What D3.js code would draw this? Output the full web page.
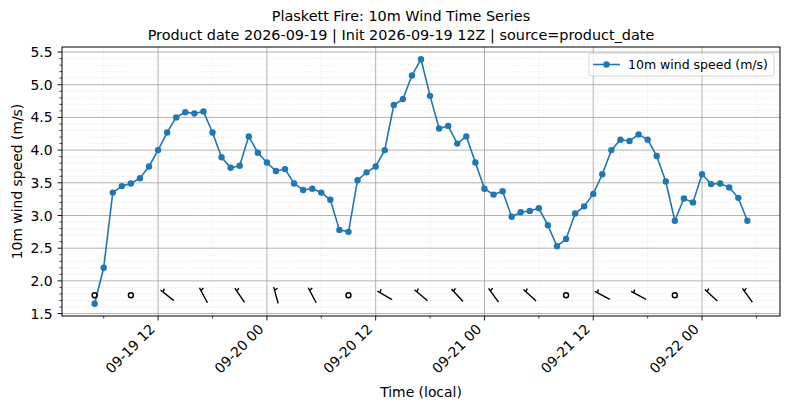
<!DOCTYPE html>
<html>
<head>
<meta charset="utf-8">
<script src="https://cdn.jsdelivr.net/npm/d3@7"></script>
<style>
  body { margin: 0; background: #fff; }
  text { font-family: "DejaVu Sans", sans-serif; fill: #000; }
</style>
</head>
<body>
<div id="chart"></div>
<script>
// hourly 10m wind speed (m/s), 09-19 05:00 .. 09-22 05:00
const startTime = Date.UTC(2026, 8, 19, 5);
const speeds = [
    1.65, 2.20, 3.35, 3.45, 3.49, 3.57, 3.75, 4.00, 4.27, 4.50, 4.58, 4.56, 4.59, 4.27, 3.89, 3.73, 3.76, 4.21, 3.96,
    3.81, 3.68, 3.71, 3.49, 3.39, 3.41, 3.35, 3.24, 2.78, 2.75, 3.54, 3.66, 3.75, 4.00, 4.69, 4.78, 5.14, 5.39, 4.83, 4.33, 4.37, 4.10, 4.21, 3.81,
    3.41, 3.32, 3.37, 2.98, 3.05, 3.07, 3.11, 2.85, 2.53, 2.64, 3.03, 3.14, 3.33, 3.63, 4.00, 4.16, 4.14, 4.24, 4.16, 3.91, 3.52, 2.92, 3.26, 3.20,
    3.63, 3.48, 3.49, 3.43, 3.27, 2.92
];

// wind barbs every 4 hours; direction (deg, from), null = calm
const barbTimes = [
    "2026-09-19T05", "2026-09-19T09", "2026-09-19T13", "2026-09-19T17", "2026-09-19T21",
    "2026-09-20T01", "2026-09-20T05", "2026-09-20T09", "2026-09-20T13", "2026-09-20T17", "2026-09-20T21",
    "2026-09-21T01", "2026-09-21T05", "2026-09-21T09", "2026-09-21T13", "2026-09-21T17", "2026-09-21T21",
    "2026-09-22T01", "2026-09-22T05"
];
const barbDirs = [null, null, 309, 332, 326, 345, 332, null, 300, 310, 317, 324, 312, null, 298, 298, null, 313, 324];
const barbLevel = 1.78;

const yMajorTicks = [1.5, 2.0, 2.5, 3.0, 3.5, 4.0, 4.5, 5.0, 5.5];

const titleLines = [
    "Plaskett Fire: 10m Wind Time Series",
    "Product date 2026-09-19 | Init 2026-09-19 12Z | source=product_date"
];
const seriesLabel = "10m wind speed (m/s)";

function init() {
    const w = 790, h = 409;
    const left = 62, right = 780, top = 47, bottom = 316;
    const blue = "#1f77b4";

    const times = speeds.map((_, i) => new Date(startTime + i * 3600e3));
    const data = times.map((t, i) => ({ t: t, v: speeds[i] }));
    const parseBarb = d3.utcParse("%Y-%m-%dT%H");
    const barbs = barbTimes.map((s, i) => ({ t: parseBarb(s), dir: barbDirs[i] }));

    // matplotlib-like 5% margins
    const [t0, t1] = d3.extent(times);
    const tPad = (t1 - t0) * 0.05;
    const [v0, v1] = d3.extent(speeds);
    const vPad = (v1 - v0) * 0.05;

    const x = d3.scaleUtc()
        .domain([new Date(+t0 - tPad), new Date(+t1 + tPad)])
        .range([left, right]);
    const y = d3.scaleLinear()
        .domain([v0 - vPad, v1 + vPad])
        .range([bottom, top]);

    const svg = d3.select("#chart").append("svg")
        .attr("width", w)
        .attr("height", h);

    const xMajor = x.ticks(d3.utcHour.every(12)).filter(d => d.getUTCHours() % 12 === 0);
    const xMinor = x.ticks(d3.utcHour.every(6)).filter(d => d.getUTCHours() % 12 !== 0);
    const yMinor = d3.range(15, 56).map(d => d / 10).filter(d => !yMajorTicks.some(m => Math.abs(m - d) < 1e-6));

    // minor grid
    const grid = svg.append("g");
    grid.selectAll(".gmx").data(xMinor).enter().append("line")
        .attr("x1", d => x(d)).attr("x2", d => x(d))
        .attr("y1", top).attr("y2", bottom)
        .attr("stroke", "#d6d6d6").attr("stroke-width", 0.6).attr("stroke-dasharray", "1,1.6");
    grid.selectAll(".gmy").data(yMinor).enter().append("line")
        .attr("x1", left).attr("x2", right)
        .attr("y1", d => y(d)).attr("y2", d => y(d))
        .attr("stroke", "#d6d6d6").attr("stroke-width", 0.6).attr("stroke-dasharray", "1,1.6");
    // major grid
    grid.selectAll(".gx").data(xMajor).enter().append("line")
        .attr("x1", d => x(d)).attr("x2", d => x(d))
        .attr("y1", top).attr("y2", bottom)
        .attr("stroke", "#a0a0a0").attr("stroke-width", 0.8);
    grid.selectAll(".gy").data(yMajorTicks).enter().append("line")
        .attr("x1", left).attr("x2", right)
        .attr("y1", d => y(d)).attr("y2", d => y(d))
        .attr("stroke", "#a0a0a0").attr("stroke-width", 0.8);

    // series
    const line = d3.line().x(d => x(d.t)).y(d => y(d.v));
    svg.append("path")
        .datum(data)
        .attr("fill", "none")
        .attr("stroke", blue)
        .attr("stroke-width", 1.6)
        .attr("d", line);
    svg.selectAll(".pt").data(data).enter().append("circle")
        .attr("cx", d => x(d.t))
        .attr("cy", d => y(d.v))
        .attr("r", 3.2)
        .attr("fill", blue);

    // wind barbs (pivot middle, half barb on clockwise side)
    const L = 17;
    const gb = svg.append("g").attr("stroke", "#000").attr("fill", "none").attr("stroke-width", 1.4);
    barbs.forEach(b => {
        const cx = x(b.t), cy = y(barbLevel);
        if (b.dir === null) {
            gb.append("circle").attr("cx", cx).attr("cy", cy).attr("r", 2.5);
            return;
        }
        const a = b.dir * Math.PI / 180;
        const ux = Math.sin(a), uy = -Math.cos(a);
        const px = -uy, py = ux;
        const sx = cx - ux * L / 2, sy = cy - uy * L / 2;
        const ex = cx + ux * L / 2, ey = cy + uy * L / 2;
        const hx = sx + ux * L * 0.8125, hy = sy + uy * L * 0.8125;
        const tx = hx + px * L * 0.2 + ux * L * 0.0625, ty = hy + py * L * 0.2 + uy * L * 0.0625;
        gb.append("path")
            .attr("stroke-linejoin", "round")
            .attr("d", `M${sx},${sy}L${ex},${ey}M${hx},${hy}L${tx},${ty}`);
    });

    // frame
    svg.append("rect")
        .attr("x", left).attr("y", top)
        .attr("width", right - left).attr("height", bottom - top)
        .attr("fill", "none").attr("stroke", "#000").attr("stroke-width", 1);

    // x axis
    const xAxis = svg.append("g");
    xAxis.selectAll(".tk").data(xMajor).enter().append("line")
        .attr("x1", d => x(d)).attr("x2", d => x(d))
        .attr("y1", bottom).attr("y2", bottom + 4.5)
        .attr("stroke", "#000").attr("stroke-width", 0.9);
    xAxis.selectAll(".tkm").data(xMinor).enter().append("line")
        .attr("x1", d => x(d)).attr("x2", d => x(d))
        .attr("y1", bottom).attr("y2", bottom + 2.6)
        .attr("stroke", "#000").attr("stroke-width", 0.7);
    const fmt = d3.utcFormat("%m-%d %H");
    xAxis.selectAll(".tl").data(xMajor).enter().append("text")
        .attr("transform", d => `translate(${x(d) - 2.3},${bottom + 14}) rotate(-45)`)
        .attr("text-anchor", "end")
        .attr("font-size", "13.9px")
        .text(d => fmt(d));

    // y axis
    const yAxis = svg.append("g");
    yAxis.selectAll(".tk").data(yMajorTicks).enter().append("line")
        .attr("x1", left - 4.5).attr("x2", left)
        .attr("y1", d => y(d)).attr("y2", d => y(d))
        .attr("stroke", "#000").attr("stroke-width", 0.9);
    yAxis.selectAll(".tkm").data(yMinor).enter().append("line")
        .attr("x1", left - 2.6).attr("x2", left)
        .attr("y1", d => y(d)).attr("y2", d => y(d))
        .attr("stroke", "#000").attr("stroke-width", 0.7);
    yAxis.selectAll(".tl").data(yMajorTicks).enter().append("text")
        .attr("x", left - 9.5)
        .attr("y", d => y(d))
        .attr("dy", "0.36em")
        .attr("text-anchor", "end")
        .attr("font-size", "13.9px")
        .text(d => d3.format(".1f")(d));

    // axis labels
    svg.append("text")
        .attr("x", (left + right) / 2).attr("y", 397)
        .attr("text-anchor", "middle")
        .attr("font-size", "13.9px")
        .text("Time (local)");
    svg.append("text")
        .attr("transform", `translate(22,${(top + bottom) / 2}) rotate(-90)`)
        .attr("text-anchor", "middle")
        .attr("font-size", "13.9px")
        .text(seriesLabel);

    // title
    svg.selectAll(".title").data(titleLines).enter().append("text")
        .attr("x", 401)
        .attr("y", (d, i) => 21 + i * 18.8)
        .attr("text-anchor", "middle")
        .attr("font-size", "14.4px")
        .text(d => d);

    // legend
    const lg = svg.append("g").attr("transform", `translate(${right - 191},${top + 6})`);
    lg.append("rect")
        .attr("width", 185).attr("height", 23).attr("rx", 2.5)
        .attr("fill", "#fff").attr("fill-opacity", 0.8)
        .attr("stroke", "#cccccc").attr("stroke-width", 0.8);
    lg.append("line")
        .attr("x1", 4).attr("x2", 31).attr("y1", 11.5).attr("y2", 11.5)
        .attr("stroke", blue).attr("stroke-width", 1.6);
    lg.append("circle")
        .attr("cx", 17.5).attr("cy", 11.5).attr("r", 3.2).attr("fill", blue);
    lg.append("text")
        .attr("x", 39).attr("y", 11.5).attr("dy", "0.36em")
        .attr("font-size", "12.5px")
        .text(seriesLabel);
}

window.onload = init;
</script>
</body>
</html>
